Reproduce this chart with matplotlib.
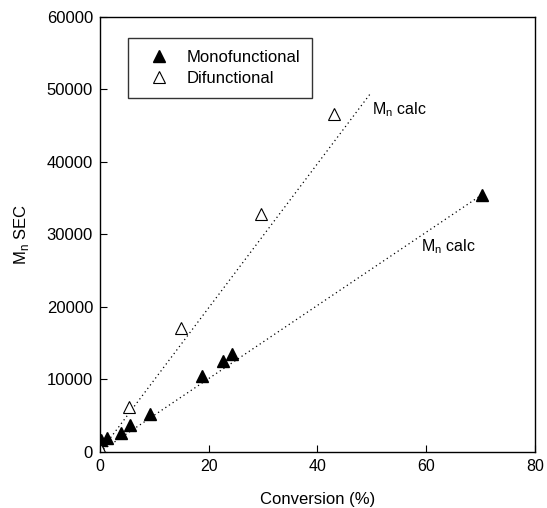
import numpy as np
import matplotlib.pyplot as plt

plt.rcParams['font.family'] = ['Liberation Sans', 'DejaVu Sans']

# Monofunctional initiator (filled triangles)
mono_conv = [0.1, 1.2, 3.8, 5.6, 9.2, 18.8, 22.7, 24.3, 70.2]
mono_mn = [1600, 1850, 2600, 3650, 5200, 10450, 12550, 13450, 35450]

# Difunctional initiator (open triangles)
di_conv = [0.1, 5.3, 14.9, 29.7, 43.1]
di_mn = [250, 6200, 17050, 32750, 46650]

# Calculated Mn lines
mono_calc_x = [0, 70.2]
mono_calc_y = [0, 35450]
di_calc_x = [0, 49.7]
di_calc_y = [0, 49400]

fig = plt.figure(figsize=(5.47, 5.08), dpi=100)
ax = fig.add_axes([0.1828, 0.1108, 0.7952, 0.8557])

ax.plot(di_calc_x, di_calc_y, color='black', lw=0.9, ls=(0, (1, 2.5)))
ax.plot(mono_calc_x, mono_calc_y, color='black', lw=0.9, ls=(0, (1, 2.5)))

ax.plot(mono_conv, mono_mn, ls='none', marker='^', ms=9, color='black',
        label='Monofunctional')
ax.plot(di_conv, di_mn, ls='none', marker='^', ms=9, mfc='white',
        mec='black', mew=0.8, label='Difunctional')

ax.text(50.1, 47200, r'M$_\mathregular{n}$ calc', fontsize=11.5, va='center')
ax.text(59.1, 28250, r'M$_\mathregular{n}$ calc', fontsize=11.5, va='center')

ax.set_xlim(0, 80)
ax.set_ylim(0, 60000)
ax.set_xticks([0, 20, 40, 60, 80])
ax.set_yticks(np.arange(0, 60001, 10000))
ax.tick_params(direction='in', length=5, top=False, right=False)
ax.tick_params(axis='y', labelsize=12, pad=5)
ax.tick_params(axis='x', labelsize=11.5, pad=5)
for s in ax.spines.values():
    s.set_linewidth(1)

ax.set_xlabel('Conversion (%)', fontsize=12, labelpad=13)
ax.set_ylabel(r'M$_\mathregular{n}$ SEC', fontsize=12, labelpad=11)

leg = ax.legend(loc='upper left', bbox_to_anchor=(0.064, 0.952),
                borderaxespad=0, fancybox=False, edgecolor='black',
                fontsize=12, handlelength=2.3, handletextpad=0.55,
                borderpad=0.7, labelspacing=0.4, markerscale=0.95)
leg.get_frame().set_linewidth(1)

fig.savefig('out.png', dpi=100)
